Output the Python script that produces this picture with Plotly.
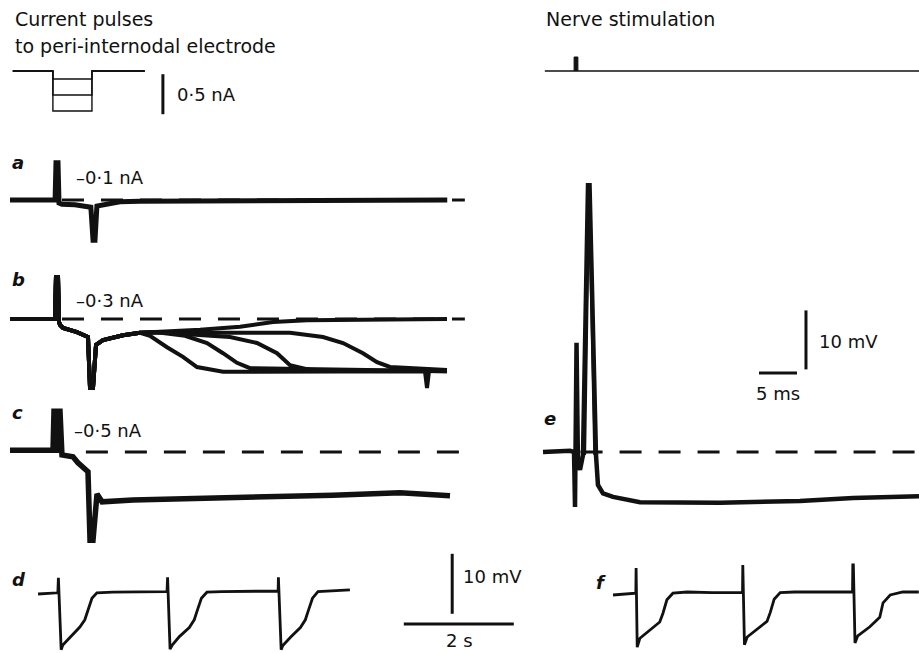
import plotly.graph_objects as go

W, H = 919, 653

# ---------------- data ----------------
# current pulses to peri-internodal electrode (time s, current nA)
pulse_amplitudes_nA = [-0.1, -0.3, -0.5]
pulse_times_s = [0.05, 0.78, 0.78, 1.49, 1.49, 2.45]

# nerve stimulation (time ms, arbitrary units)
stim_line_ms = [-4.1, 45.2]
stim_pulse_ms = [-0.25, 0.25]

# a: -0.1 nA (time s, mV)
a_t = [0, 0.82, 0.836, 0.873, 0.891, 0.945, 1.18, 1.36, 1.47, 1.51, 1.545, 1.58, 1.73, 2.0, 2.36, 7.95]
a_v = [0, 0, 6.2, 6.2, -0.5, -0.7, -0.8, -1.0, -1.2, -6.7, -6.7, -1.0, -0.7, -0.3, -0.2, 0]

# b: -0.3 nA, five superimposed sweeps: shared start, individual tails
b_start_t = [0, 0.818, 0.836, 0.873, 0.891, 0.909, 0.964, 1.218, 1.418, 1.455, 1.509, 1.564, 1.691, 2.055, 2.364]
b_start_v = [0, 0, 7.0, 7.0, -0.5, -1.0, -1.5, -2.2, -3.0, -11.5, -11.5, -4.3, -3.5, -2.7, -2.3]
b_tail_t = [
    [2.673, 3.455, 4.182, 4.782, 5.4, 7.945],
    [2.673, 3.455, 5.091, 5.691, 6.055, 6.418, 6.673, 6.909, 7.945],
    [2.673, 4.0, 4.491, 4.855, 5.091, 5.455, 7.945],
    [2.673, 3.182, 3.582, 3.873, 4.127, 4.364, 7.945],
    [2.545, 2.855, 3.145, 3.4, 3.873, 7.545, 7.582, 7.618, 7.945],
]
b_tail_v = [
    [-2.2, -1.8, -1.3, -0.5, -0.2, 0],
    [-2.2, -2.3, -2.3, -3.0, -4.0, -5.7, -7.2, -8.0, -8.5],
    [-2.2, -3.0, -4.0, -5.7, -7.7, -8.5, -8.7],
    [-2.2, -2.8, -4.0, -5.7, -7.3, -8.2, -8.7],
    [-2.8, -4.7, -6.3, -8.0, -8.8, -8.7, -11.5, -8.7, -8.5],
]

# c: -0.5 nA
c_t = [0, 0.764, 0.782, 0.8, 0.818, 0.836, 0.873, 0.891, 0.909, 0.945, 1.145, 1.236, 1.327, 1.418,
       1.455, 1.509, 1.582, 1.673, 2.236, 4.055, 5.873, 7.091, 8.0]
c_v = [0.3, 0.3, 0.3, 6.8, 6.8, 0.3, 0.3, 6.8, 6.8, -0.5, -0.8, -1.8, -2.7, -3.3,
       -14.7, -14.7, -7.0, -8.3, -8.0, -7.7, -7.2, -6.8, -7.3]

# d: repeated pulses (time s, mV)
d_t = [0.51, 0.85, 0.87, 0.88, 0.93, 0.96, 1.09, 1.27, 1.36, 1.42, 1.49, 1.58, 1.87, 2.84,
       2.855, 2.865, 2.91, 2.95, 3.08, 3.26, 3.35, 3.41, 3.48, 3.58, 3.85, 4.87,
       4.875, 4.88, 4.93, 4.96, 5.1, 5.28, 5.37, 5.43, 5.5, 5.6, 5.9, 6.18]
d_v = [0, 0.2, 0.2, 2.7, -9.3, -8.5, -7.2, -5.5, -4.3, -2.7, -0.7, 0.2, 0.3, 0.4,
       0.4, 2.8, -9.2, -8.5, -7.1, -5.6, -4.3, -2.6, -0.7, 0.3, 0.4, 0.5,
       0.5, 2.8, -9.3, -8.6, -7.2, -5.6, -4.3, -2.6, -0.7, 0.4, 0.6, 0.7]

# e: nerve-evoked response (time ms, mV)
e_t = [-4.34, -0.79, -0.26, -0.13, 0.07, 0.26, 0.53, 0.79, 0.92, 1.58, 1.78, 2.63, 2.89, 3.55,
       4.87, 8.42, 18.95, 29.47, 36.45, 45.13]
e_v = [0, 0.2, 0, -9.3, 18.5, -2.2, -3.0, -1.7, -0.5, 45.2, 45.2, -0.5, -5.6, -7.0,
       -7.6, -8.5, -8.6, -8.3, -7.8, -7.5]
e2_t = [1.2, 1.66, 1.8, 2.4]
e2_v = [-0.5, 37.0, 37.0, -0.5]

# f: repeated nerve stimulation (time s, mV)
f_t = [0.0, 0.2, 0.38, 0.415, 0.42, 0.44, 0.49, 0.67, 0.85, 0.91, 0.98, 1.09, 1.35, 1.8, 2.35,
       2.355, 2.36, 2.39, 2.44, 2.62, 2.80, 2.86, 2.93, 3.04, 3.3, 3.8, 4.355,
       4.36, 4.37, 4.40, 4.45, 4.67, 4.85, 4.91, 5.04, 5.27, 5.56]
f_v = [0.0, 0.2, 0.3, 0.3, 4.5, -8.7, -7.2, -5.8, -4.5, -3.0, -0.8, 0.3, 0.5, 0.4, 0.4,
       0.4, 5.0, -8.3, -7.0, -5.7, -4.4, -2.9, -0.7, 0.4, 0.5, 0.5, 0.5,
       5.0, 5.0, -8.0, -6.8, -5.3, -3.7, -1.3, 0.0, 0.5, 0.5]

# scale bar sizes
bar_nA = 0.5
bar_mV = 10
bar_s = 2
bar_ms = 5

# ---------------- layout geometry (pixels) ----------------
INK = "#111111"
FONT = "DejaVu Sans"

def x_rng(origin_px, px_per_unit):
    return [-origin_px / px_per_unit, (W - origin_px) / px_per_unit]

def y_rng(origin_px, px_per_unit):
    return [-(H - origin_px) / px_per_unit, origin_px / px_per_unit]

fig = go.Figure()

def line(x, y, xa, ya, width, dash=None, color=INK):
    fig.add_trace(go.Scatter(x=x, y=y, xaxis=xa, yaxis=ya, mode="lines",
                             line=dict(color=color, width=width, dash=dash),
                             hoverinfo="skip", showlegend=False))

# current pulses
for amp in pulse_amplitudes_nA:
    line(pulse_times_s, [0, 0, amp, amp, 0, 0], "x", "y", 1.4)
# stimulation
line(stim_line_ms, [0, 0], "x2", "y2", 1.6)
fig.add_trace(go.Scatter(x=[stim_pulse_ms[0], stim_pulse_ms[0], stim_pulse_ms[1], stim_pulse_ms[1]],
                         y=[0, 1, 1, 0], xaxis="x2", yaxis="y2", mode="lines", fill="toself",
                         fillcolor=INK, line=dict(color=INK, width=1), hoverinfo="skip", showlegend=False))

DASH = "22px,17px"
# a
line([0.945, 8.27], [0, 0], "x", "y3", 3, DASH)
line(a_t, a_v, "x", "y3", 5)
# b
line([0.945, 8.27], [0, 0], "x", "y4", 3, DASH)
for tt, vv in zip(b_tail_t, b_tail_v):
    line(b_start_t + tt, b_start_v + vv, "x", "y4", 4)
# c
line([1.38, 8.36], [0, 0], "x", "y5", 3, DASH)
line(c_t, c_v, "x", "y5", 5.5)
# d
line(d_t, d_v, "x", "y6", 2.8)
# e
line([0.6, 45.2], [0, 0], "x2", "y7", 3, DASH)
line(e_t, e_v, "x2", "y7", 4.5)
line(e2_t, e2_v, "x2", "y7", 2)
# f
line(f_t, f_v, "x3", "y8", 2.8)

# scale bars
line([2.78, 2.78], [-0.04, -0.04 - bar_nA], "x", "y", 3)
line([8.04, 8.04], [-3.3, -3.3 + bar_mV], "x", "y6", 3)
line([7.16, 7.16 + bar_s], [-5.0, -5.0], "x", "y6", 3)
line([30.26, 30.26], [14.0, 14.0 + bar_mV], "x2", "y7", 3)
line([24.08, 24.08 + bar_ms], [13.4, 13.4], "x2", "y7", 3)

# ---------------- axes ----------------
ax = dict(visible=False, showgrid=False, zeroline=False, fixedrange=True, domain=[0, 1])
fig.update_layout(
    xaxis=dict(ax, range=x_rng(10, 55), anchor="y"),
    xaxis2=dict(ax, range=x_rng(576, 7.6), anchor="y2"),
    xaxis3=dict(ax, range=x_rng(613, 55), anchor="y8"),
    yaxis=dict(ax, range=y_rng(71, 80), anchor="x"),
    yaxis2=dict(ax, range=y_rng(71, 14), anchor="x2"),
    yaxis3=dict(ax, range=y_rng(200, 6), anchor="x"),
    yaxis4=dict(ax, range=y_rng(319, 6), anchor="x"),
    yaxis5=dict(ax, range=y_rng(452, 6), anchor="x"),
    yaxis6=dict(ax, range=y_rng(594, 6), anchor="x"),
    yaxis7=dict(ax, range=y_rng(452, 5.9), anchor="x2"),
    yaxis8=dict(ax, range=y_rng(595, 6), anchor="x3"),
)

texts = [
    ("Current pulses", 13, 19, 19, False, "left"),
    ("to peri-internodal electrode", 13, 46, 19, False, "left"),
    ("Nerve stimulation", 544, 19, 19, False, "left"),
    ("0·5 nA", 175, 95, 18, False, "left"),
    ("–0·1 nA", 74, 177, 18, False, "left"),
    ("–0·3 nA", 74, 300, 18, False, "left"),
    ("–0·5 nA", 72, 430, 18, False, "left"),
    ("10 mV", 461, 576, 18, False, "left"),
    ("2 s", 459, 640, 18, False, "center"),
    ("10 mV", 817, 342, 18, False, "left"),
    ("5 ms", 778, 393, 18, False, "center"),
    ("a", 10, 162, 18, True, "left"),
    ("b", 10, 280, 18, True, "left"),
    ("c", 10, 412, 18, True, "left"),
    ("d", 10, 579, 18, True, "left"),
    ("e", 542, 418, 18, True, "left"),
    ("f", 594, 582, 18, True, "left"),
]
ann = []
for s, px, py, size, it, anc in texts:
    ann.append(dict(text=f"<i><b>{s}</b></i>" if it else s, x=px / W, y=1 - py / H,
                    xref="paper", yref="paper", xanchor=anc, yanchor="middle",
                    showarrow=False, font=dict(family=FONT, size=size, color=INK)))

fig.update_layout(width=W, height=H, autosize=False, margin=dict(l=0, r=0, t=0, b=0),
                  paper_bgcolor="white", plot_bgcolor="rgba(0,0,0,0)", annotations=ann,
                  showlegend=False)

fig.write_html("out.html", config={"displayModeBar": False},
               post_script="document.body.style.margin='0';document.body.style.overflow='hidden';")
